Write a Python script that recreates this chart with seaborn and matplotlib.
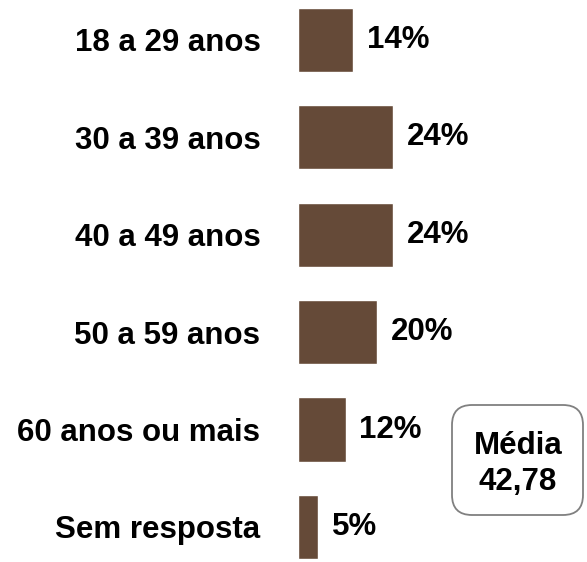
import matplotlib
matplotlib.use("Agg")
import matplotlib.pyplot as plt
import matplotlib.transforms as mtrans
from matplotlib.patches import FancyBboxPatch
import seaborn as sns
import pandas as pd

faixas = ["18 a 29 anos", "30 a 39 anos", "40 a 49 anos", "50 a 59 anos",
          "60 anos ou mais", "Sem resposta"]
percentuais = [14, 24, 24, 20, 12, 5]
media_txt = "Média\n42,78"

sns.set_theme(style="white")
plt.rcParams["font.family"] = ["Liberation Sans", "DejaVu Sans"]
plt.rcParams["font.weight"] = "bold"

df = pd.DataFrame({"faixa": faixas, "pct": percentuais})
fs = 22.5

fig = plt.figure(figsize=(5.87, 5.62), dpi=100)
ax = fig.add_axes([298 / 587, 0, 1 - 298 / 587, 1])
sns.barplot(data=df, x="pct", y="faixa", orient="h", color="#654a38",
            saturation=1, width=0.66, ax=ax)

ax.set_xlim(0, 289 / 3.96)
ax.set_ylim(5.36, -0.41)
for s in ax.spines.values():
    s.set_visible(False)
ax.set_xticks([])
ax.set_xlabel("")
ax.set_ylabel("")
ax.tick_params(axis="y", length=0, pad=27, labelsize=fs)
for t in ax.get_yticklabels():
    t.set_fontweight("bold")
    t.set_color("black")

ax.bar_label(ax.containers[0], fmt="%d%%", padding=10, fontsize=fs,
             fontweight="bold", color="black")

# caixa da média (em pixels)
box = FancyBboxPatch((452, 47), 131, 110, boxstyle="round,pad=0,rounding_size=20",
                     transform=mtrans.IdentityTransform(), facecolor="white",
                     edgecolor="#808080", linewidth=1.3)
fig.patches.append(box)
fig.text(518 / 587, 1 - 464 / 562, media_txt, ha="center", va="center",
         fontsize=fs, fontweight="bold", color="black", linespacing=1.3)

fig.savefig("out.png", dpi=100)
